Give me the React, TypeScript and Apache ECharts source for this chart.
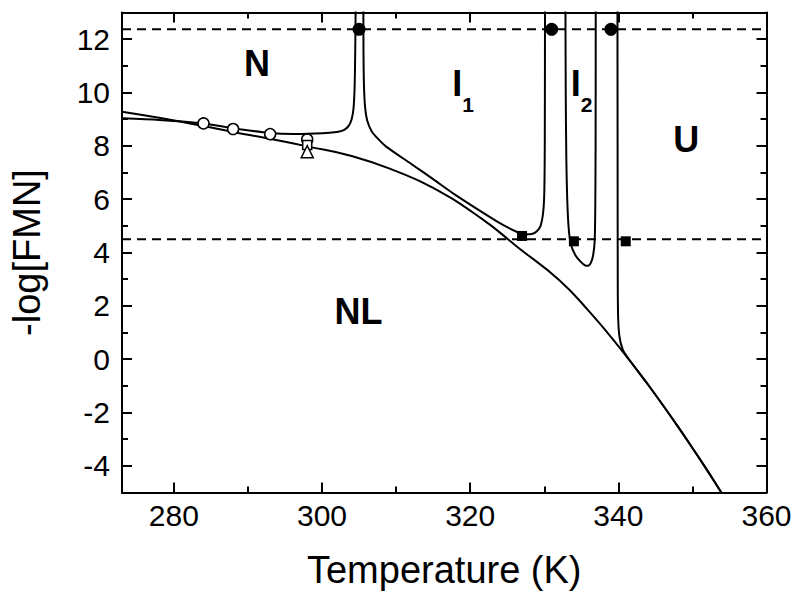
import React, { useEffect, useRef } from "react";
import * as echarts from "echarts";

// ---------- data (Temperature K, -log[FMN]) ----------
const xMajorTicks = [280, 300, 320, 340, 360];
const xMinorTicks = [290, 310, 330, 350];
const yMajorTicks = [-4, -2, 0, 2, 4, 6, 8, 10, 12];
const yMinorTicks = [-3, -1, 1, 3, 5, 7, 9, 11];

const nlCurve = [
  [273, 9.28], [278, 9.05], [284, 8.74], [288, 8.52], [293, 8.26], [298, 7.98],
  [304, 7.62], [310, 7.05], [315, 6.42], [321.5, 5.28], [326.5, 4.18], [332, 2.97],
  [336, 1.81], [340, 0.49], [344, -0.95], [348, -2.51], [350, -3.33], [352, -4.17],
  [353.9, -5],
];
const nCurve = [
  [273, 9.03], [278, 8.97], [284, 8.84], [288, 8.66], [293, 8.48], [296, 8.44],
  [299, 8.46], [301, 8.49], [302.2, 8.53], [303, 8.6], [303.6, 8.75], [304, 9.0],
  [304.25, 9.4], [304.4, 10.2], [304.48, 11.5], [304.54, 13.2],
];
const i1Curve = [
  [305.58, 13.2], [305.6, 11.5], [305.66, 10.3], [305.8, 9.5], [306.1, 8.95],
  [306.7, 8.55], [307.6, 8.25], [308.7, 7.96], [312, 7.33], [315, 6.75], [318, 6.16],
  [321.5, 5.53], [324, 5.1], [326.4, 4.76], [327.5, 4.68], [328.3, 4.69], [329, 4.8],
  [329.5, 5.0], [329.85, 5.5], [330.0, 6.2], [330.07, 8], [330.1, 13.2],
];
const i2Curve = [
  [332.86, 13.2], [332.9, 10], [332.98, 7.5], [333.1, 6.0], [333.3, 4.9], [333.6, 4.3],
  [334.2, 3.9], [334.9, 3.66], [335.5, 3.52], [335.9, 3.5], [336.3, 3.62], [336.6, 3.9],
  [336.8, 4.4], [336.88, 5.5], [336.93, 8], [336.95, 13.2],
];
const uCurve = [
  [339.88, 13.2], [339.9, 8], [339.92, 3], [339.97, 1.6], [340.15, 0.85],
  [340.6, 0.36], [341.5, -0.03], [344, -0.95], [348, -2.51], [350, -3.33],
  [352, -4.17], [353.9, -5],
];
const upperDashed = [[273, 12.37], [360, 12.37]];
const lowerDashed = [[273, 4.5], [360, 4.5]];

const filledCircles = [[305, 12.37], [331, 12.37], [339, 12.37]];
const filledSquares = [[327, 4.62], [334, 4.42], [341, 4.42]];
const openCircles = [[284, 8.84], [288, 8.63], [293, 8.44], [298, 8.24]];
const openSquares = [[298, 8.03]];
const openTriangles = [[298, 7.78]];

const regionLabels = [
  { text: "N", x: 291.24, y: 11.08 },
  { text: "I", x: 318.25, y: 10.33 },
  { text: "I", x: 334.25, y: 10.33 },
  { text: "U", x: 349.16, y: 8.23 },
  { text: "NL", x: 304.94, y: 1.77 },
];
const subscriptLabels = [
  { text: "1", x: 319.73, y: 9.55 },
  { text: "2", x: 335.73, y: 9.55 },
];

const xMin = 273;
const xMax = 360;
const yMin = -5;
const yMax = 13;

// ---------- styles ----------
const FONT = "'Liberation Sans', Arial, Helvetica, sans-serif";
const BLACK = "#000";

function xAxisDef(position: "top" | "bottom", ticks: number[], len: number, main: boolean, labels: boolean) {
  return {
    type: "value",
    min: xMin,
    max: xMax,
    position,
    axisLine: { show: main, onZero: false, lineStyle: { color: BLACK, width: 2 } },
    axisTick: { show: true, inside: true, length: len, customValues: ticks, lineStyle: { color: BLACK, width: 2 } },
    axisLabel: labels
      ? { show: true, customValues: ticks, fontSize: 30, color: BLACK, fontFamily: FONT, margin: 8 }
      : { show: false },
    splitLine: { show: false },
    ...(labels
      ? {
          name: "Temperature (K)",
          nameLocation: "middle",
          nameGap: 58,
          nameTextStyle: { fontSize: 38, color: BLACK, fontFamily: FONT },
        }
      : {}),
  };
}

function yAxisDef(position: "left" | "right", ticks: number[], len: number, main: boolean, labels: boolean) {
  return {
    type: "value",
    min: yMin,
    max: yMax,
    position,
    axisLine: { show: main, onZero: false, lineStyle: { color: BLACK, width: 2 } },
    axisTick: { show: true, inside: true, length: len, customValues: ticks, lineStyle: { color: BLACK, width: 2 } },
    axisLabel: labels
      ? { show: true, customValues: ticks, fontSize: 30, color: BLACK, fontFamily: FONT, margin: 12 }
      : { show: false },
    splitLine: { show: false },
    ...(labels
      ? {
          name: "-log[FMN]",
          nameLocation: "middle",
          nameGap: 76,
          nameTextStyle: { fontSize: 38, color: BLACK, fontFamily: FONT },
        }
      : {}),
  };
}

function curve(data: number[][], smooth: number) {
  return {
    type: "line",
    data,
    xAxisIndex: 0,
    yAxisIndex: 0,
    showSymbol: false,
    symbol: "none",
    smooth,
    clip: true,
    lineStyle: { color: BLACK, width: 2 },
    silent: true,
  };
}

function dashed(data: number[][]) {
  return {
    type: "line",
    data,
    showSymbol: false,
    symbol: "none",
    lineStyle: { color: BLACK, width: 2, type: [9, 6] },
    silent: true,
  };
}

function markers(data: number[][], symbol: string, size: number, filled: boolean) {
  return {
    type: "scatter",
    data,
    symbol,
    symbolSize: size,
    itemStyle: filled
      ? { color: BLACK, borderColor: BLACK, borderWidth: 0, opacity: 1 }
      : { color: "#fff", borderColor: BLACK, borderWidth: 1.5, opacity: 1 },
    silent: true,
    z: 5,
  };
}

function textSeries(items: { text: string; x: number; y: number }[], size: number) {
  return {
    type: "scatter",
    symbolSize: 1,
    itemStyle: { color: "rgba(0,0,0,0)", opacity: 1 },
    data: items.map((d) => ({ value: [d.x, d.y], name: d.text })),
    label: {
      show: true,
      position: "inside",
      formatter: (p: any) => p.name,
      fontSize: size,
      fontWeight: "bold",
      color: BLACK,
      fontFamily: FONT,
      opacity: 1,
    },
    silent: true,
    z: 6,
  };
}

export default function App() {
  const ref = useRef<HTMLDivElement>(null);

  useEffect(() => {
    if (!ref.current) return;
    const chart = echarts.init(ref.current, null, { renderer: "svg" });
    const option: any = {
      animation: false,
      backgroundColor: "#fff",
      grid: { left: 119.5, right: 33.5, top: 12.5, bottom: 107.5, containLabel: false },
      xAxis: [
        xAxisDef("bottom", xMajorTicks, 10, true, true),
        xAxisDef("top", xMajorTicks, 10, true, false),
        xAxisDef("bottom", xMinorTicks, 6, false, false),
        xAxisDef("top", xMinorTicks, 6, false, false),
      ],
      yAxis: [
        yAxisDef("left", yMajorTicks, 10, true, true),
        yAxisDef("right", yMajorTicks, 10, true, false),
        yAxisDef("left", yMinorTicks, 6, false, false),
        yAxisDef("right", yMinorTicks, 6, false, false),
      ],
      series: [
        curve(nlCurve, 0.5),
        curve(nCurve, 0.25),
        curve(i1Curve, 0.25),
        curve(i2Curve, 0.25),
        curve(uCurve, 0.25),
        dashed(upperDashed),
        dashed(lowerDashed),
        markers(filledCircles, "circle", 13, true),
        markers(filledSquares, "rect", 10, true),
        markers(openCircles, "circle", 11, false),
        markers(openSquares, "rect", 9, false),
        markers(openTriangles, "triangle", 12, false),
        textSeries(regionLabels, 36),
        textSeries(subscriptLabels, 21),
      ],
    };
    chart.setOption(option);
    return () => chart.dispose();
  }, []);

  return (
    <div
      ref={ref}
      style={{ position: "fixed", left: 0, top: 0, width: 800, height: 600, background: "#fff" }}
    />
  );
}
